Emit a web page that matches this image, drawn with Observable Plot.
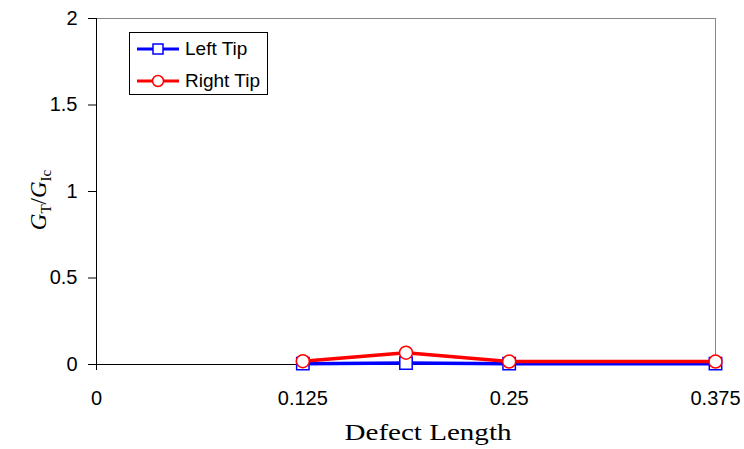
<!DOCTYPE html>
<html>
<head>
<meta charset="utf-8">
<script src="https://cdn.jsdelivr.net/npm/d3@7"></script>
<script src="https://cdn.jsdelivr.net/npm/@observablehq/plot@0.6"></script>
<style>
  html, body { margin: 0; padding: 0; background: #fff; }
  #wrap { position: relative; width: 744px; height: 449px; }
  #legend { position: absolute; left: 129px; top: 32px; width: 139px; height: 63px;
    border: 1px solid #000; background: #fff; font-family: "Liberation Sans", Arial, sans-serif; font-size: 19px; box-sizing: border-box; color: #000; }
  .row { position: absolute; left: 6px; height: 22px; display: flex; align-items: center; }
  .row svg { margin-right: 5px; }
</style>
</head>
<body>
<div id="wrap"></div>
<script>
const defectLength = [0.125, 0.1875, 0.25, 0.375];
const leftTip = [0.005, 0.008, 0.005, 0.005];
const rightTip = [0.019, 0.068, 0.017, 0.017];
const xTicks = [0, 0.125, 0.25, 0.375];
const yTicks = [0, 0.5, 1, 1.5, 2];
const seriesNames = ["Left Tip", "Right Tip"];

const left = defectLength.map((x, i) => ({x, y: leftTip[i]}));
const right = defectLength.map((x, i) => ({x, y: rightTip[i]}));

const chart = Plot.plot({
  width: 744, height: 449,
  marginLeft: 96, marginRight: 29, marginTop: 18, marginBottom: 85,
  style: {fontFamily: "'Liberation Sans', Arial, sans-serif", fontSize: "20px", color: "#000", background: "#fff", overflow: "visible"},
  x: {domain: [0, 0.375], ticks: xTicks, tickFormat: d => String(d), label: null},
  y: {domain: [0, 2], ticks: yTicks, tickFormat: d => String(d), label: null},
  marks: [
    Plot.ruleY([2], {stroke: "#888", strokeWidth: 1}),
    Plot.ruleX([0.375], {stroke: "#888", strokeWidth: 1}),
    Plot.axisX({ticks: xTicks, tickSize: 6, tickPadding: 20, fontSize: 20, tickFormat: d => String(d), stroke: "#000", strokeOpacity: 1, fill: "#000"}),
    Plot.axisY({ticks: yTicks, tickSize: 8, tickPadding: 11, fontSize: 20, tickFormat: d => String(d), stroke: "#000", strokeOpacity: 1, fill: "#000"}),
    Plot.ruleY([0], {stroke: "#000", strokeWidth: 1}),
    Plot.ruleX([0], {stroke: "#000", strokeWidth: 1}),
    Plot.line(left, {x: "x", y: "y", stroke: "#0000ff", strokeWidth: 3.5}),
    Plot.dot(left, {x: "x", y: "y", symbol: "square", r: 7, stroke: "#0000ff", strokeWidth: 1.5, fill: "#fff"}),
    Plot.line(right, {x: "x", y: "y", stroke: "#ff0000", strokeWidth: 3.5}),
    Plot.dot(right, {x: "x", y: "y", symbol: "circle", r: 6.5, stroke: "#ff0000", strokeWidth: 1.5, fill: "#fff"})
  ]
});

const svg = d3.select(chart);
svg.append("text")
  .attr("x", 428).attr("y", 440)
  .attr("text-anchor", "middle")
  .attr("textLength", 167)
  .attr("lengthAdjust", "spacingAndGlyphs")
  .style("font-family", "'Liberation Serif', 'Times New Roman', serif")
  .style("font-size", "23px")
  .attr("fill", "#000")
  .text("Defect Length");

const yl = svg.append("text")
  .attr("transform", "translate(46,200) rotate(-90)")
  .attr("text-anchor", "middle")
  .attr("fill", "#000")
  .style("font-family", "'Liberation Serif', 'Times New Roman', serif")
  .style("font-size", "23px");
yl.append("tspan").style("font-style", "italic").text("G");
yl.append("tspan").attr("dy", 5).style("font-size", "15px").text("T");
yl.append("tspan").attr("dy", -5).text("/");
yl.append("tspan").style("font-style", "italic").text("G");
yl.append("tspan").attr("dy", 5).style("font-size", "15px").text("Ic");

document.getElementById("wrap").appendChild(chart);

// legend
const legend = document.createElement("div");
legend.id = "legend";
const markers = [
  `<svg width="44" height="12"><line x1="1" y1="6" x2="43" y2="6" stroke="#0000ff" stroke-width="3"/><rect x="17" y="1" width="10" height="10" fill="#fff" stroke="#0000ff" stroke-width="1.5"/></svg>`,
  `<svg width="44" height="14"><line x1="1" y1="7" x2="43" y2="7" stroke="#ff0000" stroke-width="3"/><circle cx="22" cy="7" r="5.5" fill="#fff" stroke="#ff0000" stroke-width="1.5"/></svg>`
];
seriesNames.forEach((name, i) => {
  const row = document.createElement("div");
  row.className = "row";
  row.style.top = (i === 0 ? 5 : 37) + "px";
  row.innerHTML = markers[i] + `<span>${name}</span>`;
  legend.appendChild(row);
});
document.getElementById("wrap").appendChild(legend);
</script>
</body>
</html>
